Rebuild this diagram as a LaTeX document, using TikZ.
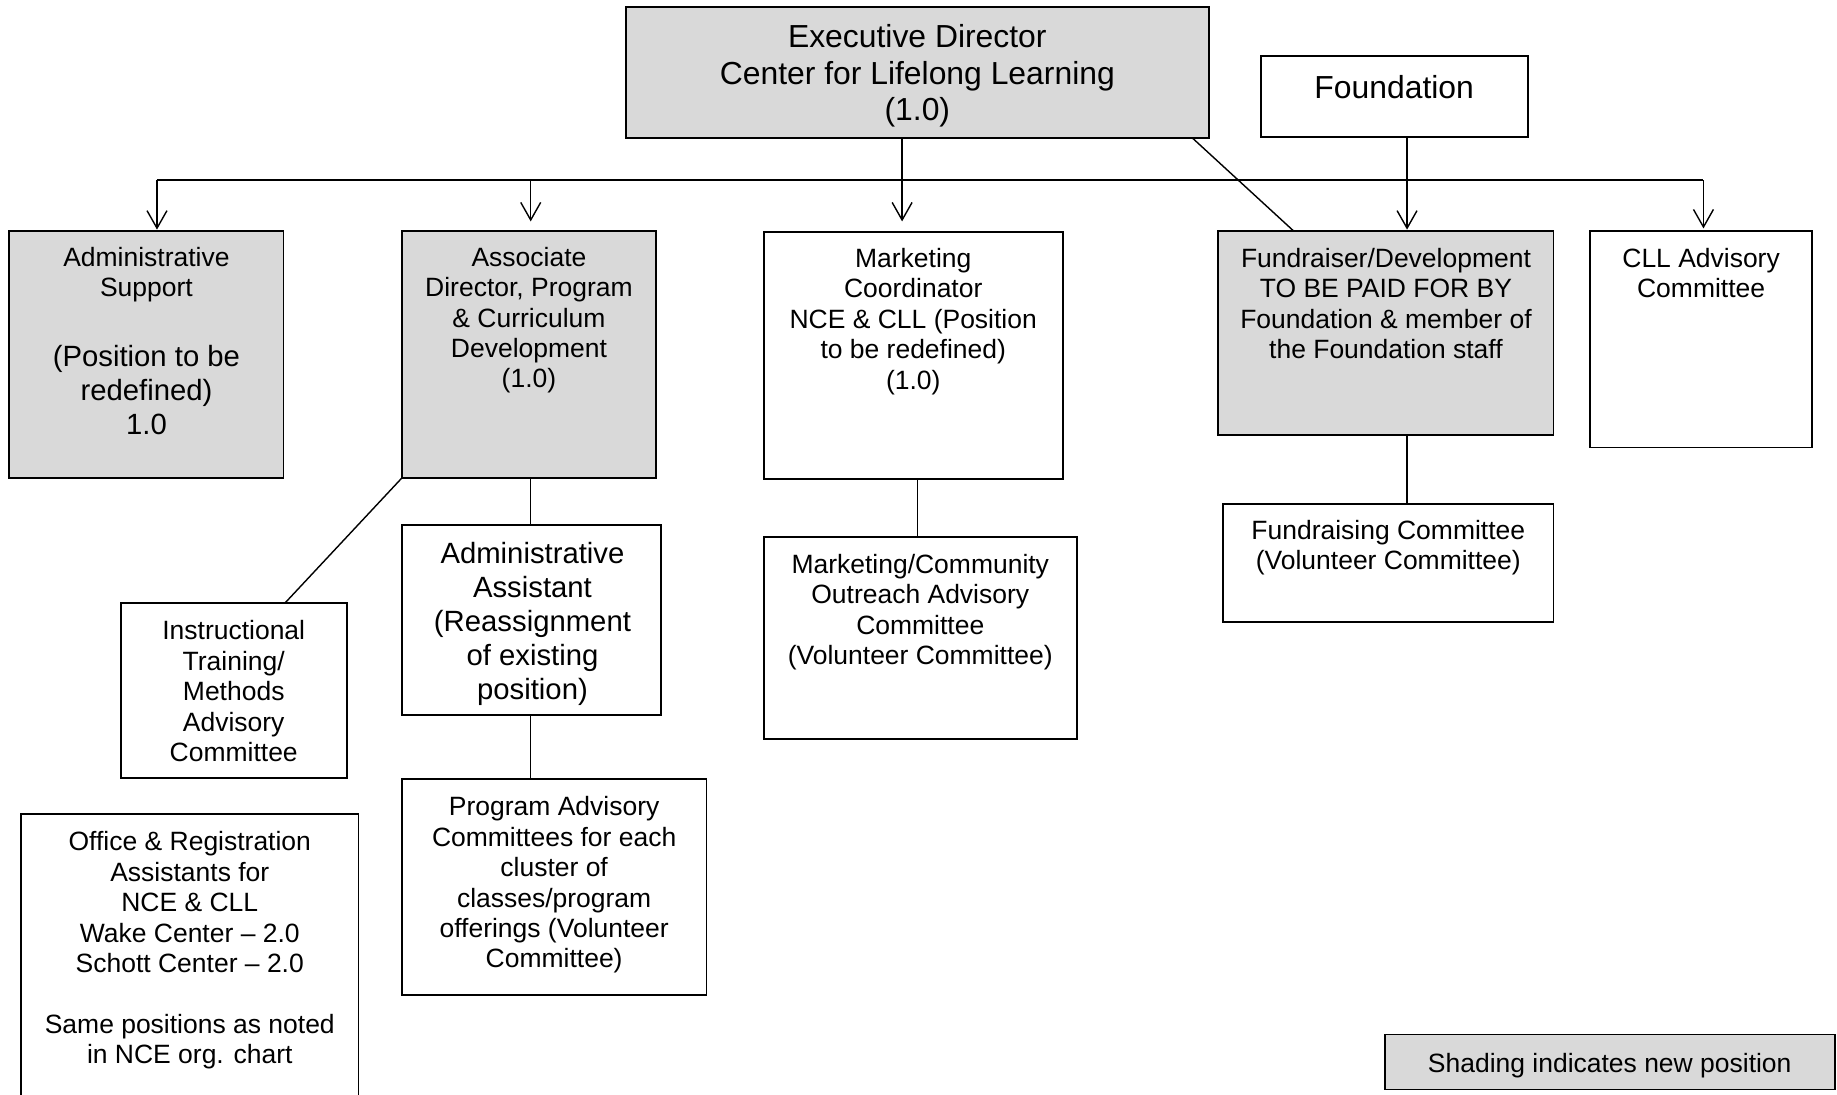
\documentclass[tikz,border=0pt]{standalone}
\usepackage{fontspec}
\setmainfont{Liberation Sans}
\usetikzlibrary{arrows.meta,calc}
\definecolor{shade}{RGB}{217,217,217}
\newcommand\szS{\fontsize{22.6pt}{26pt}\selectfont}
\newcommand\szM{\fontsize{25pt}{29pt}\selectfont}
\newcommand\szL{\fontsize{27.2pt}{31pt}\selectfont}
\tikzset{
  box/.style={draw, rectangle, line width=1.6pt, inner sep=0pt, outer sep=0pt, anchor=north west},
  newpos/.style={box, fill=shade},
  txtS/.style={font=\szS, align=center, inner sep=0pt, anchor=north},
  txtM/.style={font=\szM, align=center, inner sep=0pt, anchor=north},
  txtL/.style={font=\szL, align=center, inner sep=0pt, anchor=north},
  link/.style={line width=1.2pt},
  arr/.style={line width=1.2pt, -{Straight Barb[length=15pt,width=17pt,line width=1.2pt]}},
  bus/.style={line width=1.7pt}
}
\begin{document}
\begin{tikzpicture}[x=1pt,y=-1pt]
\useasboundingbox (0,0) rectangle (1568,934);
\clip (0,0) rectangle (1568,934);
\fill[white] (0,0) rectangle (1568,934);
% boxes
\node[newpos, minimum width=498pt, minimum height=112pt] (exec) at (534,6) {};
\node[box, minimum width=228pt, minimum height=69pt] (found) at (1076,48) {};
\node[newpos, minimum width=234pt, minimum height=211pt] (adm) at (8,197) {};
\node[newpos, minimum width=217pt, minimum height=211pt] (assoc) at (343,197) {};
\node[box, minimum width=255pt, minimum height=211pt] (mkt) at (652,198) {};
\node[newpos, minimum width=286pt, minimum height=174pt] (fund) at (1040,197) {};
\node[box, minimum width=190pt, minimum height=185pt] (cll) at (1357,197) {};
\node[box, minimum width=221pt, minimum height=162pt] (aa) at (343,448) {};
\node[box, minimum width=260pt, minimum height=184pt] (prog) at (343,665) {};
\node[box, minimum width=193pt, minimum height=149pt] (instr) at (103,515) {};
\node[box, minimum width=288pt, minimum height=270pt] (office) at (18,695) {};
\node[box, minimum width=267pt, minimum height=173pt] (mcom) at (652,458) {};
\node[box, minimum width=282pt, minimum height=101pt] (fcom) at (1044,430) {};
\node[newpos, minimum width=384pt, minimum height=47pt] (legend) at (1182,883) {};
% texts
\node[txtL] (execT) at (783,21) {Executive Director\\Center for Lifelong Learning\\(1.0)};
\node[txtL] (foundT) at (1190,64) {Foundation};
\node[txtS] (admT) at (125,210.6) {Administrative\\Support};
\node[txtM] (admT2) at (125,294.8) {(Position to be\\redefined)\\1.0};
\node[txtS] (assocT) at (451.5,210.6) {Associate\\Director, Program\\\& Curriculum\\Development\\(1.0)};
\node[txtS] (mktT) at (779.5,211.6) {Marketing\\Coordinator\\NCE \& CLL (Position\\to be redefined)\\(1.0)};
\node[txtS] (fundT) at (1183,211.6) {Fundraiser/Development\\TO BE PAID FOR BY\\Foundation \& member of\\the Foundation staff};
\node[txtS] (cllT) at (1452,211.6) {CLL Advisory\\Committee};
\node[txtM] (aaT) at (454.5,462.8) {Administrative\\Assistant\\(Reassignment\\of existing\\position)};
\node[txtS] (progT) at (473,679.6) {Program Advisory\\Committees for each\\cluster of\\classes/program\\offerings (Volunteer\\Committee)};
\node[txtS] (instrT) at (199.5,529.6) {Instructional\\Training/\\Methods\\Advisory\\Committee};
\node[txtS] (officeT) at (162,709.6) {Office \& Registration\\Assistants for\\NCE \& CLL\\Wake Center – 2.0\\Schott Center – 2.0\\[26pt]Same positions as noted\\in NCE org. chart};
\node[txtS] (mcomT) at (785.5,472.6) {Marketing/Community\\Outreach Advisory\\Committee\\(Volunteer Committee)};
\node[txtS] (fcomT) at (1185,443.6) {Fundraising Committee\\(Volunteer Committee)};
\node[txtS] (legendT) at (1374,898.6) {Shading indicates new position};
% bus
\coordinate (busL) at ($(adm.north west)+(126,-43)$);
\coordinate (busR) at ($(cll.north west)+(97,-43)$);
\draw[bus] (busL) -- (busR);
\draw[arr, shorten >=1pt] (busL) -- (busL |- adm.north);
\draw[arr, shorten >=8pt] ([xshift=110pt]assoc.north west |- busL) -- ([xshift=110pt]assoc.north west);
\draw[arr, shorten >=2pt] (busR) -- (busR |- cll.north);
\draw[arr, shorten >=9pt] ([xshift=236pt]exec.south west) -- ([xshift=118pt]mkt.north west);
\draw[arr, shorten >=1pt] ([xshift=161pt]fund.north west |- found.south) -- ([xshift=161pt]fund.north west);
\draw[link] ([xshift=-14pt]exec.south east) -- ([xshift=64pt]fund.north west);
% lower links
\draw[link] (assoc.south west) -- ([xshift=140pt]instr.north west);
\draw[link] ([xshift=110pt]assoc.south west) -- ([xshift=110pt]assoc.south west |- aa.north);
\draw[link] ([xshift=110pt]aa.south west) -- ([xshift=110pt]aa.south west |- prog.north);
\draw[link] ([xshift=131pt]mkt.south west) -- ([xshift=131pt]mkt.south west |- mcom.north);
\draw[link] ([xshift=161pt]fund.south west) -- ([xshift=161pt]fund.south west |- fcom.north);
\end{tikzpicture}
\end{document}
